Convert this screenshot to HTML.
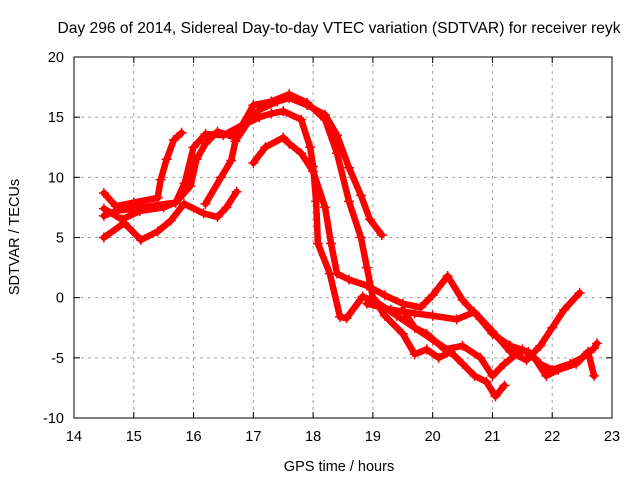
<!DOCTYPE html>
<html><head><meta charset="utf-8"><style>
body{margin:0;background:#fff}
svg{display:block;font-family:"Liberation Sans",sans-serif}
</style></head><body>
<svg id="chart" width="640" height="480" xmlns="http://www.w3.org/2000/svg">
<text x="339" y="33" font-size="15.6" text-anchor="middle">Day 296 of 2014, Sidereal Day-to-day VTEC variation (SDTVAR) for receiver reyk</text>
<text x="339" y="471" font-size="14.5" text-anchor="middle">GPS time / hours</text>
<text transform="translate(19,237) rotate(-90)" font-size="14.5" text-anchor="middle">SDTVAR / TECUs</text>
<g id="grid"></g><g id="series"></g><g id="axes"></g>
</svg>
<script>
const xTicks=[14,15,16,17,18,19,20,21,22,23];
const yTicks=[-10,-5,0,5,10,15,20];
const track1=[[14.5,5.0],[14.84,6.2],[15.12,4.8],[15.4,5.5],[15.62,6.4],[15.84,7.8],[16.17,7.0],[16.4,6.7],[16.55,7.5],[16.72,8.8]];
const track2=[[14.5,8.7],[14.7,7.6],[15.0,7.9],[15.4,8.3],[15.45,9.8],[15.55,11.5],[15.67,13.1],[15.8,13.7]];
const track3=[[14.5,6.8],[14.7,7.2],[15.0,7.4],[15.4,7.7],[15.7,7.9],[15.85,9.5],[16.0,12.5],[16.2,13.6],[16.5,13.5],[16.8,14.3],[17.1,15.6],[17.4,16.3],[17.6,16.6],[17.9,16.0],[18.2,15.2],[18.4,13.5],[18.6,10.8],[18.8,8.5],[18.95,6.5],[19.15,5.2]];
const track4=[[14.5,7.4],[14.8,6.5],[15.1,7.2],[15.5,7.5],[15.7,7.9],[15.95,9.3],[16.05,11.5],[16.2,12.8],[16.4,13.8],[16.7,13.3],[17.0,16.0],[17.3,16.3],[17.6,16.9],[17.9,16.2],[18.2,14.8],[18.4,12.0],[18.6,8.0],[18.8,5.0],[18.9,2.5],[19.0,0.0],[19.2,-1.5],[19.5,-3.0],[19.7,-4.7],[19.9,-4.3],[20.1,-5.0],[20.3,-4.5],[20.5,-5.5],[20.7,-6.5],[20.9,-7.0],[21.05,-8.2],[21.2,-7.3]];
const track5=[[16.2,7.8],[16.46,10],[16.63,11.4],[16.7,13],[16.9,14.5],[17.1,15],[17.3,15.3],[17.5,15.5],[17.8,14.8],[17.95,12.5],[18.0,10.9],[18.05,8],[18.08,4.5],[18.28,2],[18.45,-1.6],[18.56,-1.7],[18.83,0.1],[19.1,-0.5],[19.4,-1.5],[19.7,-2.5],[20.0,-3.5],[20.3,-4.5]];
const track6=[[17.0,11.2],[17.2,12.5],[17.5,13.3],[17.6,12.8],[17.8,12],[18.0,10.5],[18.2,7.5],[18.3,4.5],[18.4,2],[18.6,1.5],[18.9,1],[19.2,0.2],[19.5,-0.5],[19.8,-0.8],[20.0,0.2],[20.25,1.8],[20.5,-0.2],[20.8,-1.8],[21.0,-3.0],[21.3,-4],[21.6,-4.5],[21.8,-5.5],[22.0,-6],[22.3,-5.5],[22.5,-5],[22.7,-4.2],[22.75,-3.8]];
const track7=[[18.9,-0.5],[19.3,-1.0],[19.7,-1.3],[20.0,-1.5],[20.4,-1.8],[20.7,-1.2],[21.0,-2.8],[21.3,-4.5],[21.57,-5.2],[21.8,-4],[22.0,-2.5],[22.2,-1],[22.46,0.4]];
const track8=[[19.5,-1],[19.7,-2.5],[19.9,-3.0],[20.2,-4.3],[20.5,-4.0],[20.8,-5.0],[21.0,-6.5],[21.2,-5.5],[21.5,-4.3],[21.7,-5.0],[21.9,-6.5],[22.1,-6.0],[22.4,-5.5],[22.6,-4.5],[22.7,-6.5]];
const tracks=[track1,track2,track3,track4,track5,track6,track7,track8];

const L=74,R=612,T=57,B=418;
const xs=v=>L+(v-14)/(23-14)*(R-L);
const ys=v=>B-(v+10)/30*(B-T);
const NS="http://www.w3.org/2000/svg";
function mk(tag,attrs,parent){const e=document.createElementNS(NS,tag);for(const k in attrs)e.setAttribute(k,attrs[k]);parent.appendChild(e);return e;}
const grid=document.getElementById('grid'),axes=document.getElementById('axes'),ser=document.getElementById('series');
xTicks.forEach(t=>{
  if(t>14&&t<23){const g=mk('line',{x1:xs(t),x2:xs(t),y1:T,y2:B,stroke:'#a0a0a0','stroke-dasharray':'3,4'},grid);
  
  }
  const tx=mk('text',{x:xs(t),y:B+23,'font-size':14.5,'text-anchor':'middle'},axes);tx.textContent=t;
  
  
  mk('line',{x1:xs(t),x2:xs(t),y1:B,y2:B-6,stroke:'#000'},axes);
  mk('line',{x1:xs(t),x2:xs(t),y1:T,y2:T+6,stroke:'#000'},axes);
});
yTicks.forEach(t=>{
  if(t>-10&&t<20){const g=mk('line',{x1:L,x2:R,y1:ys(t),y2:ys(t),stroke:'#a0a0a0','stroke-dasharray':'3,4'},grid);
  
  }
  const tx=mk('text',{x:L-10,y:ys(t)+5,'font-size':14.5,'text-anchor':'end'},axes);tx.textContent=t;
  
  
  mk('line',{x1:L,x2:L+6,y1:ys(t),y2:ys(t),stroke:'#000'},axes);
  mk('line',{x1:R,x2:R-6,y1:ys(t),y2:ys(t),stroke:'#000'},axes);
});
const frame=mk('rect',{x:L,y:T,width:R-L,height:B-T,fill:'none',stroke:'#000'},axes);


tracks.forEach((tr,i)=>{
  const pl=mk('polyline',{points:tr.map(p=>xs(p[0])+','+ys(p[1])).join(' '),fill:'none',stroke:'#ff0000','stroke-width':6.5,'stroke-linejoin':'round','stroke-linecap':'round'},ser);
  
  
  tr.forEach(p=>{
    const x=xs(p[0]),y=ys(p[1]);
    const m=mk('path',{d:`M${x-5},${y}H${x+5}M${x},${y-5}V${y+5}`,stroke:'#ff0000','stroke-width':1.5},ser);
    
    
  });
});
</script>
</body></html>
